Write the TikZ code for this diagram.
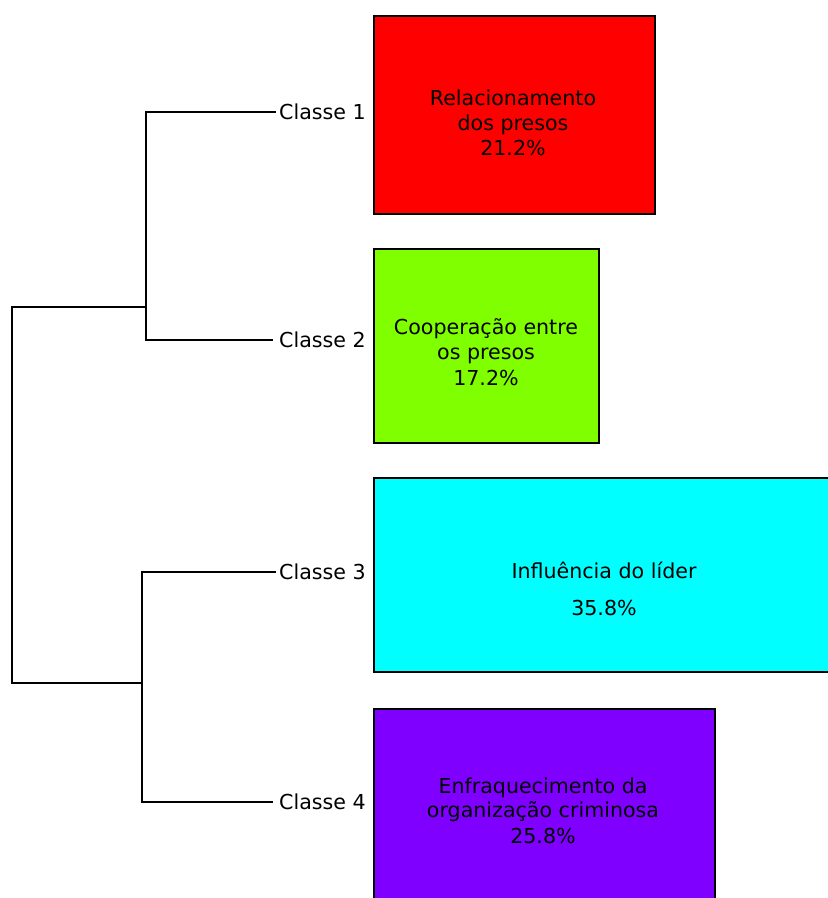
\documentclass[tikz,border=0pt]{standalone}
\usepackage{fontspec}
\setmainfont{DejaVu Sans}
\begin{document}
\begin{tikzpicture}[x=1pt,y=-1pt,
  font=\fontsize{20.6}{24}\selectfont,
  branch/.style={line width=2pt, black},
  classbox/.style={draw=black, line width=2.4pt, anchor=north west, inner sep=0pt},
  clabel/.style={anchor=west, inner sep=0pt},
  boxtext/.style={anchor=base, inner sep=0pt, text=black}]
\useasboundingbox (0,0) rectangle (828,898);
\clip (0,0) rectangle (828,898);

% colour boxes
\definecolor{cred}{HTML}{FF0000}
\definecolor{cgreen}{HTML}{80FF00}
\definecolor{ccyan}{HTML}{00FFFF}
\definecolor{cpurple}{HTML}{8000FF}
\node[classbox, fill=cred, minimum width=281, minimum height=198] (b1) at (373,14.5) {};
\node[classbox, fill=cgreen, minimum width=225, minimum height=194] (b2) at (373,247.5) {};
\node[classbox, fill=ccyan, minimum width=480, minimum height=194] (b3) at (373,476.5) {};
\node[classbox, fill=cpurple, minimum width=341, minimum height=210] (b4) at (373,708) {};

% box texts
\node[boxtext] (t1a) at (513,105) {Relacionamento};
\node[boxtext] (t1b) at (513,130) {dos presos};
\node[boxtext] (t1c) at (513,155) {21.2\%};
\node[boxtext] (t2a) at (486,334) {Cooperação entre};
\node[boxtext] (t2b) at (486,359) {os presos};
\node[boxtext] (t2c) at (486,385) {17.2\%};
\node[boxtext] (t3a) at (604,578) {Influência do líder};
\node[boxtext] (t3b) at (604,615) {35.8\%};
\node[boxtext] (t4a) at (543,793) {Enfraquecimento da};
\node[boxtext] (t4b) at (543,817) {organização criminosa};
\node[boxtext] (t4c) at (543,843) {25.8\%};

% class labels
\node[clabel] (c1) at (279,112) {Classe 1};
\node[clabel] (c2) at (279,340) {Classe 2};
\node[clabel] (c3) at (279,572) {Classe 3};
\node[clabel] (c4) at (279,802) {Classe 4};

% dendrogram junctions
\coordinate (j12) at (146,307);
\coordinate (j34) at (142,683);
\coordinate (r12) at (12,307);
\coordinate (r34) at (12,683);

\draw[branch] ([xshift=-3pt]c1.west) -| (j12) |- ([xshift=-6pt]c2.west);
\draw[branch] ([xshift=-3pt]c3.west) -| (j34) |- ([xshift=-6pt]c4.west);
\draw[branch] (j12) -- (r12) -- (r34) -- (j34);
\end{tikzpicture}
\end{document}
